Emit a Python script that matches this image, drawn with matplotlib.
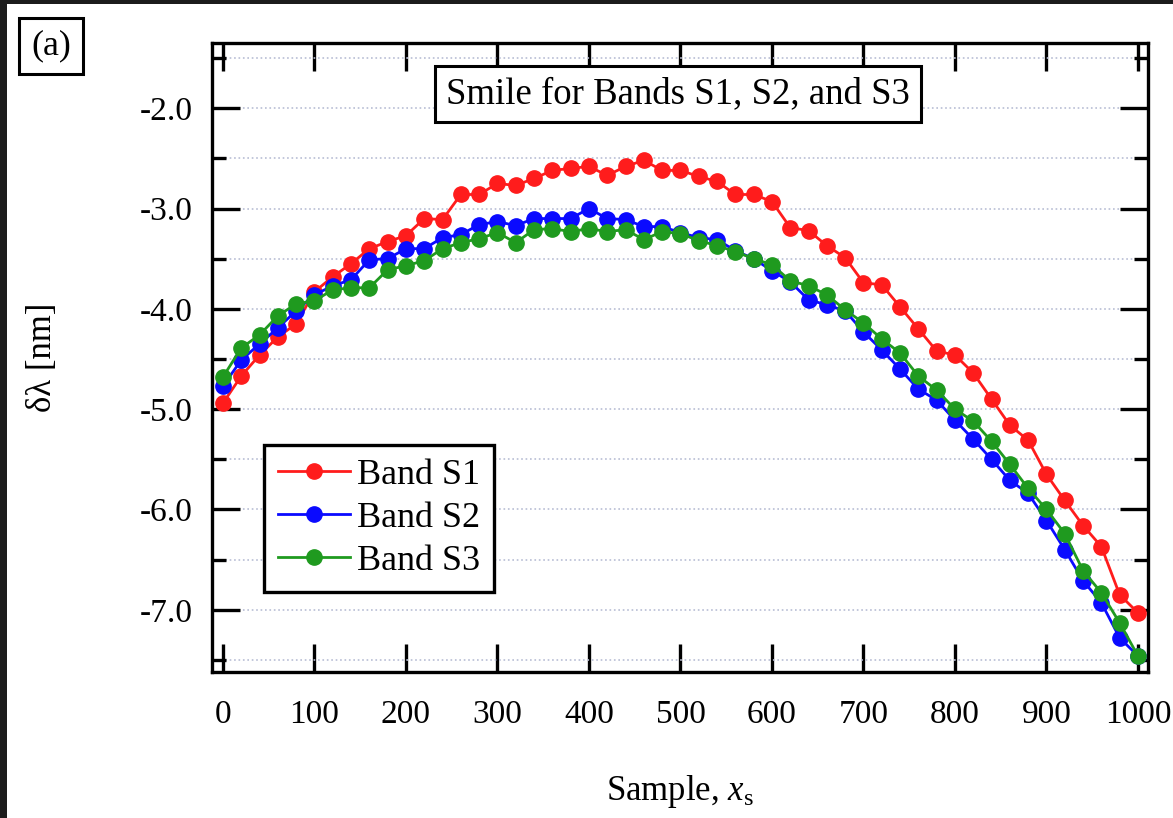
import matplotlib
matplotlib.use('Agg')
import matplotlib.pyplot as plt
from matplotlib.patches import Rectangle
from matplotlib.ticker import MultipleLocator, FormatStrFormatter

SAMPLE = list(range(0, 1001, 20))

BAND_S1 = [-4.94, -4.67, -4.46, -4.28, -4.15, -3.83, -3.68, -3.55, -3.40, -3.33,
           -3.27, -3.10, -3.11, -2.86, -2.86, -2.75, -2.77, -2.70, -2.62, -2.60,
           -2.58, -2.67, -2.58, -2.52, -2.62, -2.62, -2.68, -2.73, -2.86, -2.86,
           -2.93, -3.19, -3.22, -3.37, -3.49, -3.74, -3.76, -3.98, -4.20, -4.42,
           -4.46, -4.64, -4.90, -5.16, -5.31, -5.65, -5.91, -6.16, -6.37, -6.85,
           -7.03]
BAND_S2 = [-4.77, -4.51, -4.35, -4.19, -4.02, -3.86, -3.77, -3.71, -3.51, -3.50,
           -3.40, -3.40, -3.29, -3.26, -3.16, -3.13, -3.17, -3.10, -3.10, -3.10,
           -3.00, -3.10, -3.11, -3.18, -3.18, -3.24, -3.29, -3.31, -3.42, -3.50,
           -3.62, -3.73, -3.91, -3.96, -4.02, -4.23, -4.41, -4.60, -4.80, -4.91,
           -5.11, -5.30, -5.50, -5.71, -5.84, -6.11, -6.40, -6.71, -6.93, -7.28,
           -7.46]
BAND_S3 = [-4.68, -4.39, -4.26, -4.07, -3.95, -3.92, -3.81, -3.79, -3.79, -3.61,
           -3.57, -3.52, -3.40, -3.34, -3.30, -3.24, -3.34, -3.21, -3.20, -3.23,
           -3.20, -3.23, -3.21, -3.31, -3.23, -3.25, -3.32, -3.37, -3.43, -3.50,
           -3.56, -3.72, -3.77, -3.86, -4.01, -4.14, -4.30, -4.44, -4.67, -4.81,
           -5.00, -5.12, -5.32, -5.55, -5.79, -6.00, -6.24, -6.61, -6.83, -7.13,
           -7.46]

SERIES = [BAND_S1, BAND_S2, BAND_S3]
LABELS = ['Band S1', 'Band S2', 'Band S3']
COLORS = ['#ff1c1c', '#0a0aff', '#1f9a1f']
X_TICKS = [0, 100, 200, 300, 400, 500, 600, 700, 800, 900, 1000]

plt.rcParams['font.family'] = ['Liberation Serif', 'DejaVu Serif']
plt.rcParams['mathtext.fontset'] = 'custom'
plt.rcParams['mathtext.rm'] = 'Liberation Serif'
plt.rcParams['mathtext.it'] = 'Liberation Serif:italic'
plt.rcParams['axes.unicode_minus'] = False


def main():
    fig = plt.figure(figsize=(11.73, 8.18), dpi=100)
    # dark frame on the left / top edge of the screenshot
    fig.patch.set_facecolor('#1c1c1c')
    fig.add_artist(Rectangle((7 / 1173, 0), 1, 1 - 4 / 818, transform=fig.transFigure,
                             facecolor='white', edgecolor='none', zorder=-10))

    ax = fig.add_axes([0.1807, 0.1785, 0.798, 0.7689])
    for vals, lab, col in zip(SERIES, LABELS, COLORS):
        ax.plot(SAMPLE, vals, '-o', color=col, lw=2.0, ms=11, label=lab, zorder=3)

    ax.set_xlim(-12, 1011)
    ax.set_ylim(-7.62, -1.35)
    ax.set_xticks(X_TICKS)
    ax.yaxis.set_major_locator(MultipleLocator(1.0))
    ax.yaxis.set_minor_locator(MultipleLocator(0.5))
    ax.yaxis.set_major_formatter(FormatStrFormatter('%.1f'))
    ax.tick_params(which='both', direction='in', top=True, right=True, width=2.4,
                   labelsize=24)
    ax.tick_params(axis='x', pad=20)
    ax.tick_params(axis='y', pad=14)
    ax.tick_params(which='major', length=20)
    ax.tick_params(which='minor', length=10)
    ax.grid(axis='y', which='both', linestyle=':', color='#b8bdd4', linewidth=1.2)
    for sp in ax.spines.values():
        sp.set_linewidth(2.4)

    ax.text(0.498, 0.919, 'Smile for Bands S1, S2, and S3', transform=ax.transAxes,
            ha='center', va='center', fontsize=26.5,
            bbox=dict(boxstyle='square,pad=0.3', facecolor='white', edgecolor='black', linewidth=2.2))
    fig.text(0.0435, 0.9438, '(a)', ha='center', va='center', fontsize=26,
             bbox=dict(boxstyle='square,pad=0.33', facecolor='white', edgecolor='black', linewidth=2.2))

    leg = ax.legend(loc='upper left', bbox_to_anchor=(0.0556, 0.361), borderaxespad=0,
                    fontsize=26, fancybox=False, edgecolor='black', framealpha=1,
                    handlelength=2.0, handletextpad=0.2, labelspacing=0.27, borderpad=0.38)
    leg.get_frame().set_linewidth(2.4)

    ax.set_xlabel('Sample, $x_\\mathrm{s}$', fontsize=25)
    ax.xaxis.set_label_coords(0.5, -0.16)
    ax.set_ylabel('δλ [nm]', fontsize=25)
    ax.yaxis.set_label_coords(-0.163, 0.5)

    fig.savefig('out.png', dpi=100)


if __name__ == '__main__':
    main()
